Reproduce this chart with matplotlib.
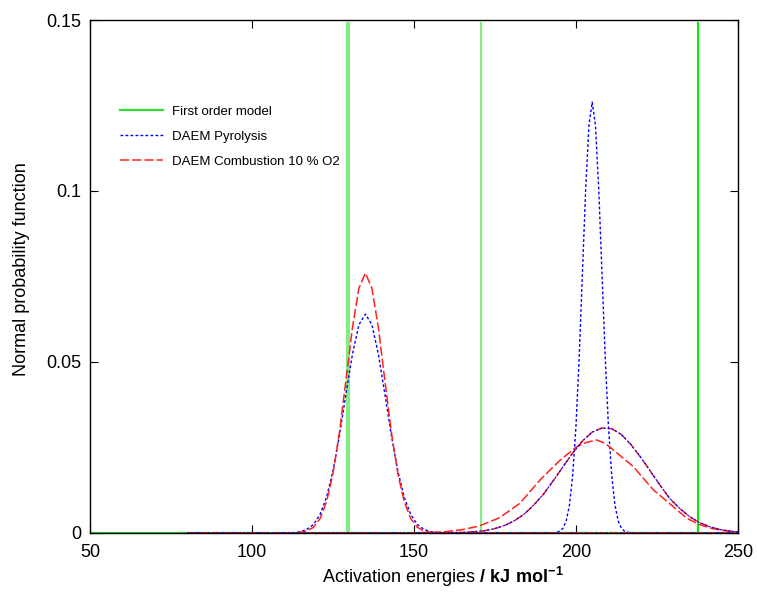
import matplotlib
matplotlib.use("Agg")
import matplotlib.pyplot as plt

plt.rcParams['font.family'] = ['Liberation Sans', 'DejaVu Sans']
plt.rcParams['mathtext.fontset'] = 'custom'
plt.rcParams['mathtext.rm'] = 'Liberation Sans'
plt.rcParams['mathtext.bf'] = 'Liberation Sans:bold'

# First order model: activation energies of the single reactions
first_order_E = [129.4, 130.0, 170.7, 237.7]
first_order_h = 0.1495

# DAEM pyrolysis, low temperature component
pyro1_E = [80, 111, 113, 115, 117, 119, 121, 123, 125, 127, 129, 131, 133, 135,
           137, 139, 141, 143, 145, 147, 149, 151, 153, 155, 157, 159, 250]
pyro1_f = [0, 0.0000, 0.0001, 0.0004, 0.0011, 0.0025, 0.0054, 0.0104, 0.0182,
           0.0286, 0.0407, 0.0523, 0.0609, 0.0640, 0.0609, 0.0523, 0.0407,
           0.0286, 0.0182, 0.0104, 0.0054, 0.0025, 0.0011, 0.0004, 0.0001,
           0.0000, 0]

# DAEM pyrolysis, high temperature component
pyro2_E = [80, 193, 194, 195, 196, 197, 198, 199, 200, 201, 202, 203, 204, 205,
           206, 207, 208, 209, 210, 211, 212, 213, 214, 215, 216, 217, 250]
pyro2_f = [0, 0.0000, 0.0002, 0.0005, 0.0014, 0.0036, 0.0083, 0.0171, 0.0314,
           0.0518, 0.0764, 0.1009, 0.1192, 0.1260, 0.1192, 0.1009, 0.0764,
           0.0518, 0.0314, 0.0171, 0.0083, 0.0036, 0.0014, 0.0005, 0.0002,
           0.0000, 0]

# DAEM combustion 10 % O2, first component
comb1_E = [80, 113, 115, 117, 119, 121, 123, 125, 127, 129, 131, 133, 135, 137,
           139, 141, 143, 145, 147, 149, 151, 153, 155, 157, 250]
comb1_f = [0, 0.0000, 0.0002, 0.0006, 0.0017, 0.0042, 0.0091, 0.0174, 0.0295,
           0.0447, 0.0600, 0.0716, 0.0760, 0.0716, 0.0600, 0.0447, 0.0295,
           0.0174, 0.0091, 0.0042, 0.0017, 0.0006, 0.0002, 0.0000, 0]

# DAEM combustion 10 % O2, second component
comb2_E = [80, 145, 150, 155, 160, 165, 170, 176.5, 182.7, 188.9, 195.1, 200.2,
           203.3, 206.4, 209, 211.5, 217.7, 223.9, 230, 234.2, 238, 242, 246, 250]
comb2_f = [0, 0, 0.00005, 0.00016, 0.0004, 0.0010, 0.0020, 0.0045, 0.0087,
           0.0155, 0.0213, 0.0252, 0.0265, 0.0272, 0.0262, 0.0243, 0.0194,
           0.0126, 0.0077, 0.0043, 0.0025, 0.0013, 0.00065, 0.0003]

# DAEM combustion 10 % O2, third component
comb3_E = [80, 157, 160, 163, 166, 169, 172, 175, 178, 181, 184, 187, 190, 193,
           196, 199, 202, 205, 208, 211, 214, 217, 220, 223, 226, 229, 232, 235,
           238, 241, 244, 247, 250]
comb3_f = [0, 0.0000, 0.00004, 0.0001, 0.0002, 0.0004, 0.0007, 0.0013, 0.0022,
           0.0036, 0.0055, 0.0082, 0.0114, 0.0153, 0.0194, 0.0234, 0.0269,
           0.0295, 0.0307, 0.0305, 0.0288, 0.0258, 0.0221, 0.0180, 0.0139,
           0.0100, 0.0072, 0.0048, 0.0031, 0.0019, 0.0011, 0.0006, 0.0003]

blue = '#0000ff'
red = '#ff2020'
blue_ls = (0, (2, 1.6))
red_ls = (0, (6, 2))

fig = plt.figure(figsize=(7.57, 5.92), dpi=100)
ax = fig.add_axes([0.1189, 0.0997, 0.856, 0.8665])

# first order model: zero line with spikes
ax.plot([50, 250], [0, 0], color='#33dd33', lw=1.6, label='First order model')
for i, e in enumerate(first_order_E):
    c = '#00ee00' if i == len(first_order_E) - 1 else '#66ee66'
    ax.vlines(e, 0, first_order_h, color=c, lw=1.5 if i == 3 else 1.2)

ax.plot(pyro1_E, pyro1_f, color=blue, ls=blue_ls, lw=1, label='DAEM Pyrolysis')
ax.plot(pyro2_E, pyro2_f, color=blue, ls=blue_ls, lw=1)
ax.plot(comb1_E, comb1_f, color=red, ls=red_ls, lw=1.1,
        label='DAEM Combustion 10 % O2')
ax.plot(comb2_E, comb2_f, color=red, ls=red_ls, lw=1.1)
ax.plot(comb3_E, comb3_f, color=red, ls=red_ls, lw=1.1)
ax.plot(comb3_E, comb3_f, color=blue, ls=blue_ls, lw=0.8)

ax.set_xlim(50, 250)
ax.set_ylim(0, 0.15)
ax.set_xticks([50, 100, 150, 200, 250])
ax.set_yticks([0, 0.05, 0.1, 0.15])
ax.set_yticklabels(['0', '0.05', '0.1', '0.15'])
ax.tick_params(direction='in', length=6, width=0.8, labelsize=13,
               top=True, right=True)
ax.tick_params(axis='x', pad=8)
ax.tick_params(axis='y', pad=6)
for s in ax.spines.values():
    s.set_linewidth(1)

ax.set_xlabel(r'Activation energies $\mathbf{/\ kJ\ mol^{-1}}$', fontsize=13)
ax.xaxis.set_label_coords(0.545, -0.063)
ax.set_ylabel('Normal probability function', fontsize=13)
ax.yaxis.set_label_coords(-0.093, 0.515)

ax.legend(loc='upper left', bbox_to_anchor=(0.046, 0.833), frameon=False,
          fontsize=9.5, handlelength=3.26, handletextpad=0.68,
          labelspacing=0.97, borderpad=0, borderaxespad=0)

fig.savefig('out.png', dpi=100)
